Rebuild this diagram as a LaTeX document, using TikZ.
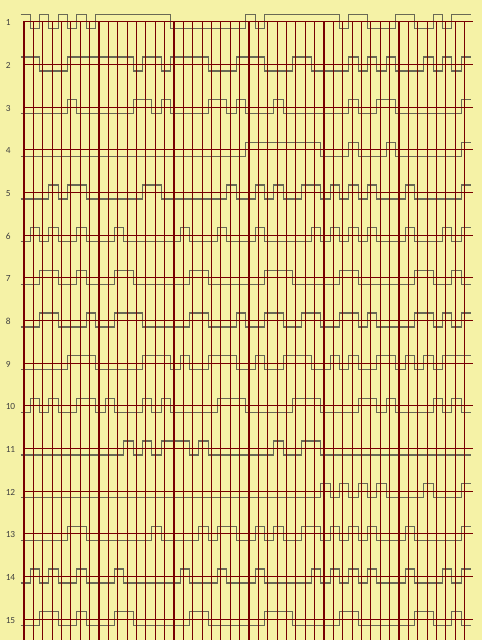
\documentclass[tikz,border=0pt]{standalone}
\usepackage{fontspec}
\setmainfont{Carlito}
\definecolor{bg}{RGB}{245,242,166}
\definecolor{gridred}{RGB}{120,0,0}
\definecolor{wavc}{RGB}{105,105,84}
\definecolor{labc}{RGB}{64,64,64}
\tikzset{
  wave/.style={draw=wavc, line width=0.8pt, line join=miter},
  thinv/.style={draw=gridred, line width=0.8pt},
  thickv/.style={draw=gridred, line width=2.2pt},
  hline/.style={draw=gridred, line width=0.8pt},
  rowlab/.style={text=labc, font=\fontsize{7}{8}\selectfont, anchor=west, inner sep=0pt}
}
\newcommand\rowy[1]{\pgfmathsetmacro\yr{21.7+42.67*(#1-1)}}
\newcommand\wave[3]{%
  \rowy{#1}%
  \draw[wave] (20.7,{\yr+6.6-14*#2})
    \foreach \b [count=\k from 0] in {#3} {
      -- ({20.7+9.375*\k},{\yr+6.6-14*\b}) -- ({20.7+9.375*(\k+1)},{\yr+6.6-14*\b})
    };
}
\begin{document}
\begin{tikzpicture}[x=0.75pt,y=-0.75pt]
\fill[bg] (0,0) rectangle (482,640);
\useasboundingbox (0,0) rectangle (482,640);
% waveforms
\wave{1}{1}{1,0,1,0,1,0,1,0, 1,1,1,1,1,1,1,1, 0,0,0,0,0,0,0,0, 1,0,1,1,1,1,1,1, 1,1,0,1,1,0,0,0, 1,1,0,0,1,0,1,1}
\wave{2}{1}{1,1,0,0,0,1,1,1, 1,1,1,1,0,1,1,0, 1,1,1,1,0,0,0,1, 1,1,0,0,0,1,1,0, 0,0,0,1,0,1,0,1, 0,0,0,1,0,1,0,1}
\wave{3}{0}{0,0,0,0,0,1,0,0, 0,0,0,0,1,1,0,1, 0,0,0,0,1,1,0,1, 0,0,0,1,0,0,0,0, 0,0,0,1,0,0,1,1, 0,0,0,0,0,0,0,1}
\wave{4}{0}{0,0,0,0,0,0,0,0, 0,0,0,0,0,0,0,0, 0,0,0,0,0,0,0,0, 1,1,1,1,1,1,1,1, 0,0,0,1,0,0,0,1, 0,0,0,0,0,0,0,1}
\wave{5}{0}{0,0,0,1,0,1,1,0, 0,0,0,0,0,1,1,0, 0,0,0,0,0,0,1,0, 0,1,0,1,0,0,1,1, 0,1,0,1,0,1,0,0, 0,1,0,0,0,0,0,1}
\wave{6}{0}{0,1,0,1,0,0,1,0, 0,0,1,0,0,0,0,0, 0,1,0,0,0,1,0,0, 0,1,0,0,0,0,0,1, 0,1,0,1,0,1,0,0, 0,1,0,0,0,1,0,1}
\wave{7}{0}{0,0,1,1,0,0,1,0, 0,0,1,1,0,0,0,0, 0,0,1,1,0,0,0,0, 0,0,1,1,1,0,0,0, 0,0,1,1,0,0,0,0, 0,0,1,1,0,0,1,0}
\wave{8}{0}{0,0,1,1,0,0,0,1, 0,0,1,1,1,0,0,0, 0,0,1,1,0,0,0,1, 0,0,1,1,0,0,1,1, 0,0,1,1,0,1,0,0, 0,0,1,1,0,1,0,1}
\wave{9}{0}{0,0,0,0,0,1,1,1, 0,0,0,0,0,1,1,1, 0,1,0,0,1,1,1,0, 0,1,0,0,1,1,1,0, 0,1,0,1,0,0,1,1, 0,1,0,1,0,1,1,1}
\wave{10}{0}{0,1,0,1,0,0,1,1, 0,1,0,0,0,1,0,1, 0,0,0,0,0,1,1,1, 0,0,0,0,0,1,1,1, 0,0,0,0,1,1,0,1, 0,0,0,0,1,0,1,0}
\wave{11}{0}{0,0,0,0,0,0,0,0, 0,0,0,1,0,1,0,1, 1,1,0,1,0,0,0,0, 0,0,0,1,0,0,1,1, 0,0,0,0,0,0,0,0, 0,0,0,0,0,0,0,0}
\wave{12}{0}{0,0,0,0,0,0,0,0, 0,0,0,0,0,0,0,0, 0,0,0,0,0,0,0,0, 0,0,0,0,0,0,0,0, 1,0,1,0,1,0,1,0, 0,0,0,1,0,0,0,1}
\wave{13}{0}{0,0,0,0,0,1,1,0, 0,0,0,0,0,0,1,0, 0,0,0,1,0,1,1,0, 0,1,0,1,0,0,1,1, 0,1,0,1,0,1,0,0, 0,1,0,0,0,0,0,1}
\wave{14}{0}{0,1,0,1,0,0,1,0, 0,0,1,0,0,0,0,0, 0,1,0,0,0,1,0,0, 0,1,0,0,0,0,0,1, 0,1,0,1,0,1,0,0, 0,1,0,0,0,1,0,1}
\wave{15}{0}{0,0,1,1,0,0,1,0, 0,0,1,1,0,0,0,0, 0,0,1,1,0,0,0,0, 0,0,1,1,1,0,0,0, 0,0,1,1,0,0,0,0, 0,0,1,1,0,0,1,0}
% horizontal red lines and labels
\foreach \r in {1,...,15} {
  \rowy{\r}
  \coordinate (hs\r) at (23,\yr);
  \coordinate (he\r) at (472.5,\yr);
  \draw[hline] (hs\r) -- (he\r);
  \node[rowlab] (lab\r) at (5.5,{\yr+1}) {\r};
}
% vertical grid lines
\foreach \k in {0,...,47} {
  \pgfmathtruncatemacro\m{mod(\k,8)}
  \coordinate (vt\k) at ({24+9.375*\k},21.7);
  \coordinate (vb\k) at ({24+9.375*\k},640);
  \ifnum\m=0
    \draw[thickv] (vt\k) -- (vb\k);
  \else
    \draw[thinv] (vt\k) -- (vb\k);
  \fi
}
\end{tikzpicture}
\end{document}
